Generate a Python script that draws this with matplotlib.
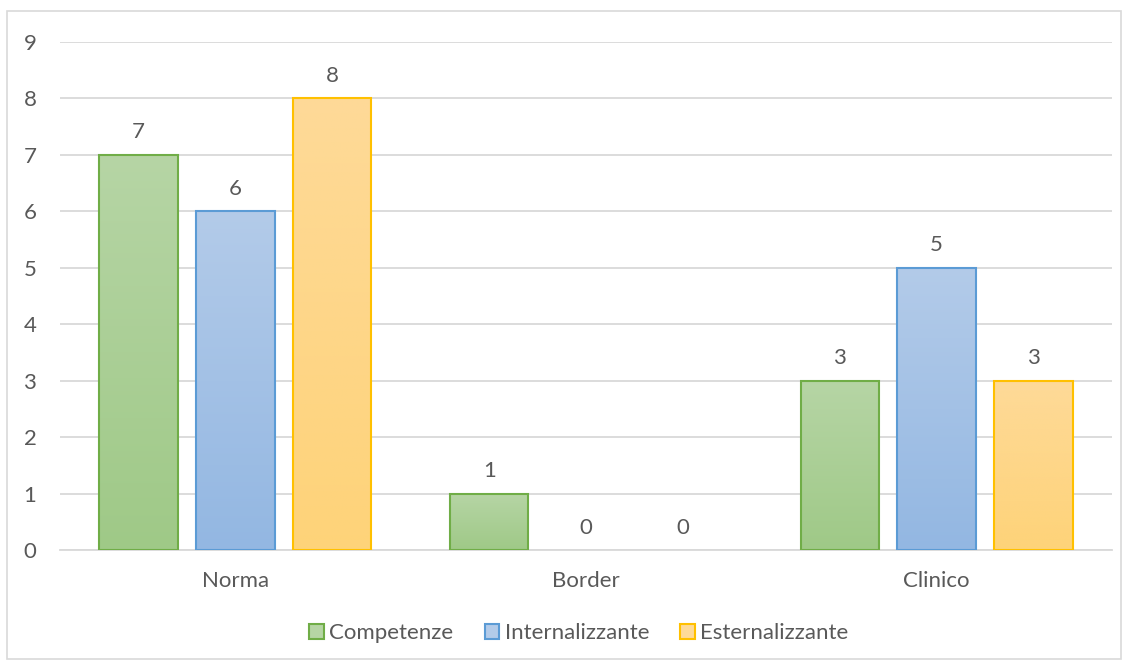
import numpy as np
import matplotlib
matplotlib.use("Agg")
import matplotlib.pyplot as plt
from matplotlib.colors import LinearSegmentedColormap
from matplotlib.patches import Rectangle, Patch

categories = ["Norma", "Border", "Clinico"]
series_names = ["Competenze", "Internalizzante", "Esternalizzante"]
competenze = [7, 1, 3]
internalizzante = [6, 0, 5]
esternalizzante = [8, 0, 3]

# (top colour, bottom colour, edge colour) for each series
palette = [
    ("#B6D5A5", "#9FC987", "#70AD47"),
    ("#B3CBE9", "#93B7E2", "#5B9BD5"),
    ("#FEDA98", "#FED379", "#FFC000"),
]

text_color = "#595959"
grid_color = "#D9D9D9"
fs = 16

plt.rcParams["font.family"] = ["Lato", "DejaVu Sans"]

fig = plt.figure(figsize=(11.3, 6.66), dpi=100)
ax = fig.add_axes([60 / 1130, 116 / 666, 1052 / 1130, 508 / 666])

values = [competenze, internalizzante, esternalizzante]
x = np.arange(len(categories))
width = 0.224
step = 0.276

gradient = np.linspace(0, 1, 256).reshape(-1, 1)
for i, (vals, (top, bottom, edge)) in enumerate(zip(values, palette)):
    cmap = LinearSegmentedColormap.from_list(f"grad{i}", [bottom, top])
    offset = (i - 1) * step
    for xi, v in zip(x, vals):
        left = xi + offset - width / 2
        if v > 0:
            ax.imshow(gradient, cmap=cmap, origin="lower", aspect="auto",
                      extent=(left, left + width, 0, v), zorder=2,
                      interpolation="bilinear")
            ax.add_patch(Rectangle((left, 0), width, v, facecolor="none",
                                   edgecolor=edge, linewidth=1.5, zorder=3))
        ax.annotate(str(v), (xi + offset, v), xytext=(0, 9),
                    textcoords="offset points", ha="center", va="bottom",
                    fontsize=fs, color=text_color)

ax.set_xlim(-0.5, 2.5)
ax.set_ylim(0, 9)
ax.set_yticks(range(10))
ax.set_xticks(x)
ax.set_xticklabels(categories)
ax.tick_params(axis="both", length=0, labelsize=fs, labelcolor=text_color)
ax.tick_params(axis="x", pad=15)
ax.tick_params(axis="y", pad=17)
ax.grid(axis="y", color=grid_color, linewidth=1.3, zorder=0)
ax.set_axisbelow(True)
for side in ["top", "right", "left"]:
    ax.spines[side].set_visible(False)
ax.spines["bottom"].set_color(grid_color)
ax.spines["bottom"].set_linewidth(1.3)

handles = [Patch(facecolor=top, edgecolor=edge, linewidth=1.5)
           for top, bottom, edge in palette]
fig.legend(handles, series_names, loc="center", bbox_to_anchor=(579 / 1130, 33 / 666),
           ncol=3, frameon=False, fontsize=fs, labelcolor=text_color,
           handlelength=0.65, handleheight=0.65, handletextpad=0.25,
           columnspacing=1.4)

fig.patches.append(Rectangle((7 / 1130, 7 / 666), 1114 / 1130, 648 / 666,
                             transform=fig.transFigure, facecolor="none",
                             edgecolor=grid_color, linewidth=1.2))

fig.savefig("out.png", dpi=100)
